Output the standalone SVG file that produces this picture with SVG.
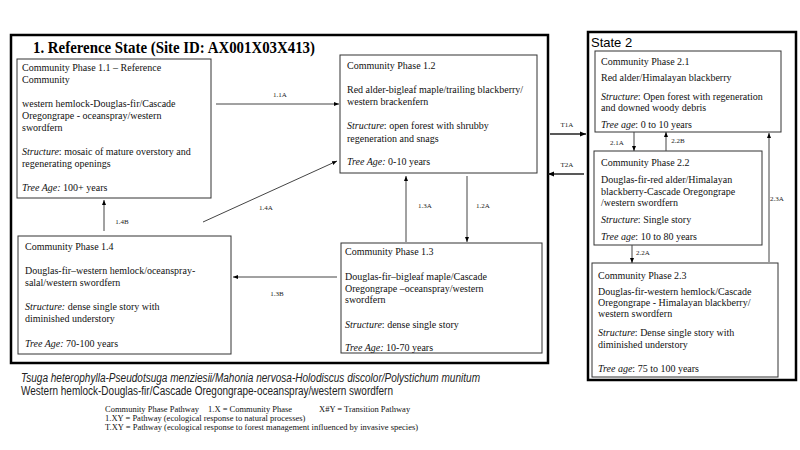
<svg xmlns="http://www.w3.org/2000/svg" width="800" height="450" viewBox="0 0 800 450">
<defs>
<marker id="ah" viewBox="0 0 10 10" refX="10" refY="5" markerWidth="5" markerHeight="5" orient="auto" markerUnits="userSpaceOnUse">
<path d="M0,1 L10,5 L0,9 Z" fill="#000"/>
</marker>
<marker id="ah2" viewBox="0 0 10 10" refX="10" refY="5" markerWidth="6" markerHeight="6" orient="auto" markerUnits="userSpaceOnUse">
<path d="M0,1 L10,5 L0,9 Z" fill="#000"/>
</marker>
</defs>
<style>
.state{fill:none;stroke:#000;stroke-width:2.5}
.box{fill:#fff;stroke:#333;stroke-width:1}
.t{font-family:"Liberation Serif","Times New Roman",serif;font-size:10px;fill:#111}
.it{font-style:italic}
.lbl{font-family:"Liberation Serif","Times New Roman",serif;font-size:7px;fill:#222}
.leg{font-family:"Liberation Serif","Times New Roman",serif;font-size:8.5px;fill:#111}
.con{stroke:#444;stroke-width:1;fill:none;marker-end:url(#ah)}
.tcon{stroke:#222;stroke-width:1.6;fill:none;marker-end:url(#ah2)}
.title{font-family:"Liberation Serif","Times New Roman",serif;font-size:16px;font-weight:bold;fill:#000}
.sans{font-family:"Liberation Sans",Arial,sans-serif;font-size:12px;fill:#222}
</style>
<rect width="800" height="450" fill="#fff"/>

<g id="state1">
<rect class="state" x="11" y="35" width="537" height="328"/>
<text class="title" x="33" y="53" textLength="282" lengthAdjust="spacingAndGlyphs">1. Reference State (Site ID: AX001X03X413)</text>
</g>

<g id="state2">
<rect class="state" x="588" y="32" width="208" height="348"/>
<text x="591" y="47" font-family="Liberation Sans,Arial,sans-serif" font-size="13" fill="#000">State 2</text>
</g>

<g id="cp11">
<rect class="box" x="17" y="59" width="194" height="139"/>
<text class="t">
<tspan x="22" y="71">Community Phase 1.1 – Reference</tspan>
<tspan x="22" y="83">Community</tspan>
<tspan x="22" y="107">western hemlock-Douglas-fir/Cascade</tspan>
<tspan x="22" y="119">Oregongrape - oceanspray/western</tspan>
<tspan x="22" y="131">swordfern</tspan>
<tspan x="22" y="155"><tspan class="it">Structure</tspan>: mosaic of mature overstory and</tspan>
<tspan x="22" y="167">regenerating openings</tspan>
<tspan x="22" y="191"><tspan class="it">Tree Age:</tspan> 100+ years</tspan>
</text>
</g>

<g id="cp12">
<rect class="box" x="340" y="55" width="197" height="118"/>
<text class="t">
<tspan x="347" y="69">Community Phase 1.2</tspan>
<tspan x="347" y="93">Red alder-bigleaf maple/trailing blackberry/</tspan>
<tspan x="347" y="105">western brackenfern</tspan>
<tspan x="347" y="129"><tspan class="it">Structure</tspan>: open forest with shrubby</tspan>
<tspan x="347" y="142">regeneration and snags</tspan>
<tspan x="347" y="165"><tspan class="it">Tree Age:</tspan> 0-10 years</tspan>
</text>
</g>

<g id="cp13">
<rect class="box" x="341" y="243" width="201" height="110"/>
<text class="t">
<tspan x="345" y="255">Community Phase 1.3</tspan>
<tspan x="345" y="280">Douglas-fir–bigleaf maple/Cascade</tspan>
<tspan x="345" y="292">Oregongrape –oceanspray/western</tspan>
<tspan x="345" y="303">swordfern</tspan>
<tspan x="345" y="328"><tspan class="it">Structure</tspan>: dense single story</tspan>
<tspan x="345" y="351"><tspan class="it">Tree Age:</tspan> 10-70 years</tspan>
</text>
</g>

<g id="cp14">
<rect class="box" x="18" y="236" width="213" height="118"/>
<text class="t">
<tspan x="25" y="250">Community Phase 1.4</tspan>
<tspan x="25" y="274">Douglas-fir–western hemlock/oceanspray-</tspan>
<tspan x="25" y="286">salal/western swordfern</tspan>
<tspan x="25" y="310"><tspan class="it">Structure:</tspan> dense single story with</tspan>
<tspan x="25" y="322">diminished understory</tspan>
<tspan x="25" y="347"><tspan class="it">Tree Age:</tspan> 70-100 years</tspan>
</text>
</g>

<g id="cp21">
<rect class="box" x="595" y="51" width="186" height="81"/>
<text class="t">
<tspan x="601" y="65">Community Phase 2.1</tspan>
<tspan x="601" y="81">Red alder/Himalayan blackberry</tspan>
<tspan x="601" y="100"><tspan class="it">Structure</tspan>: Open forest with regeneration</tspan>
<tspan x="601" y="111">and downed woody debris</tspan>
<tspan x="601" y="128"><tspan class="it">Tree age</tspan>: 0 to 10 years</tspan>
</text>
</g>

<g id="cp22">
<rect class="box" x="594" y="151" width="168" height="94"/>
<text class="t">
<tspan x="601" y="166">Community Phase 2.2</tspan>
<tspan x="601" y="183">Douglas-fir-red alder/Himalayan</tspan>
<tspan x="601" y="195">blackberry-Cascade Oregongrape</tspan>
<tspan x="601" y="206">/western swordfern</tspan>
<tspan x="601" y="223"><tspan class="it">Structure</tspan>: Single story</tspan>
<tspan x="601" y="240"><tspan class="it">Tree age</tspan>: 10 to 80 years</tspan>
</text>
</g>

<g id="cp23">
<rect class="box" x="592" y="263" width="186" height="114"/>
<text class="t">
<tspan x="598" y="279">Community Phase 2.3</tspan>
<tspan x="598" y="295">Douglas-fir-western hemlock/Cascade</tspan>
<tspan x="598" y="306">Oregongrape - Himalayan blackberry/</tspan>
<tspan x="598" y="317">western swordfern</tspan>
<tspan x="598" y="336"><tspan class="it">Structure</tspan>: Dense single story with</tspan>
<tspan x="598" y="348">diminished understory</tspan>
<tspan x="598" y="372"><tspan class="it">Tree age</tspan>: 75 to 100 years</tspan>
</text>
</g>

<g id="connectors">
<line class="con" x1="216" y1="104" x2="339" y2="104"/>
<text class="lbl" x="280" y="97" text-anchor="middle">1.1A</text>
<line class="con" x1="203" y1="222" x2="337" y2="161"/>
<text class="lbl" x="266" y="210" text-anchor="middle">1.4A</text>
<line class="con" x1="406" y1="242" x2="406" y2="176"/>
<text class="lbl" x="425" y="208" text-anchor="middle">1.3A</text>
<line class="con" x1="467" y1="176" x2="467" y2="242"/>
<text class="lbl" x="483" y="208" text-anchor="middle">1.2A</text>
<line class="con" x1="337" y1="277" x2="233" y2="277"/>
<text class="lbl" x="277" y="296" text-anchor="middle">1.3B</text>
<line class="con" x1="104" y1="231" x2="104" y2="200"/>
<text class="lbl" x="122" y="224" text-anchor="middle">1.4B</text>
<line class="tcon" x1="550" y1="134" x2="586" y2="134"/>
<text class="lbl" x="567" y="127" text-anchor="middle">T1A</text>
<line class="tcon" x1="584" y1="174" x2="548" y2="174"/>
<text class="lbl" x="567" y="167" text-anchor="middle">T2A</text>
<line class="con" x1="634" y1="132" x2="634" y2="151"/>
<text class="lbl" x="617" y="145" text-anchor="middle">2.1A</text>
<line class="con" x1="666" y1="151" x2="666" y2="132"/>
<text class="lbl" x="678" y="143" text-anchor="middle">2.2B</text>
<line class="con" x1="769" y1="262" x2="769" y2="133"/>
<text class="lbl" x="777" y="201" text-anchor="middle">2.3A</text>
<line class="con" x1="632" y1="245" x2="632" y2="263"/>
<text class="lbl" x="643" y="255" text-anchor="middle">2.2A</text>
</g>

<g id="footer">
<text class="sans" x="21" y="382" font-style="italic" textLength="459" lengthAdjust="spacingAndGlyphs">Tsuga heterophylla-Pseudotsuga menziesii/Mahonia nervosa-Holodiscus discolor/Polystichum munitum</text>
<text class="sans" x="21" y="395" textLength="372" lengthAdjust="spacingAndGlyphs">Western hemlock-Douglas-fir/Cascade Oregongrape-oceanspray/western swordfern</text>
<text class="leg" x="105" y="412">Community Phase Pathway</text>
<text class="leg" x="208" y="412">1.X = Community Phase</text>
<text class="leg" x="319" y="412">X#Y = Transition Pathway</text>
<text class="leg" x="105" y="421">1.XY = Pathway (ecological response to natural processes)</text>
<text class="leg" x="105" y="430">T.XY = Pathway (ecological response to forest management influenced by invasive species)</text>
</g>
</svg>
